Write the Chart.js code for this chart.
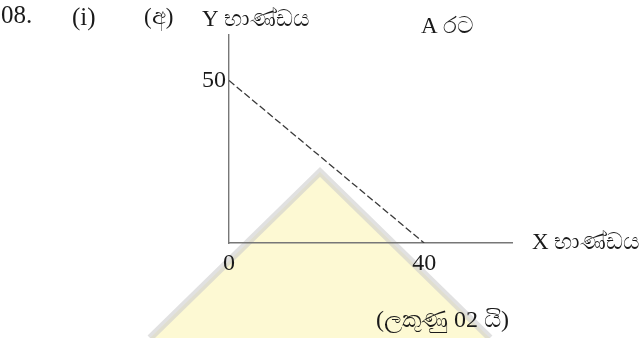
<!DOCTYPE html>
<html>
<head>
<meta charset="utf-8">
<script src="https://cdn.jsdelivr.net/npm/chart.js@4/dist/chart.umd.min.js"></script>
<style>
  html, body { margin: 0; padding: 0; background: #fff; }
  #wrap { width: 642px; height: 338px; position: relative; }
</style>
</head>
<body>
<div id="wrap"><canvas id="ppfChart" width="642" height="338"></canvas></div>
<script>
// PPF of country A: Y goods vs X goods
const ppfX = [0, 40];
const ppfY = [50, 0];
const xTicks = [0, 40];
const yTicks = [50];
const labels = {
  qNo: '08.',
  part: '(i)',
  sub: '(අ)',
  yName: 'Y භාණ්ඩය',
  country: 'A රට',
  xName: 'X භාණ්ඩය',
  marks: '(ලකුණු 02 යි)'
};

const serif = '"Liberation Serif", "Noto Sans", serif';

// faint watermark triangle behind the plot
const watermark = {
  id: 'watermark',
  beforeDraw(chart) {
    const c = chart.ctx;
    c.save();
    c.beginPath();
    c.moveTo(320, 172);
    c.lineTo(150, 338);
    c.lineTo(490, 338);
    c.closePath();
    c.fillStyle = 'rgba(252, 244, 175, 0.55)';
    c.fill();
    c.beginPath();
    c.moveTo(150, 338);
    c.lineTo(320, 172);
    c.lineTo(490, 338);
    c.lineWidth = 7;
    c.strokeStyle = 'rgba(205, 205, 205, 0.6)';
    c.stroke();
    c.restore();
  }
};

// header, axis names and marks line
const textPlugin = {
  id: 'examText',
  afterDraw(chart) {
    const c = chart.ctx;
    const xs = chart.scales.x, ys = chart.scales.y;
    c.save();
    c.fillStyle = '#1a1a1a';
    c.textBaseline = 'middle';
    c.textAlign = 'left';
    c.font = '25px ' + serif;
    c.fillText(labels.qNo, 1, 16);
    c.fillText(labels.part, 72, 18);
    c.font = '23px ' + serif;
    c.fillText(labels.sub, 144, 18);
    c.fillText(labels.yName, xs.getPixelForValue(0) - 27, 20);
    c.fillText(labels.country, 421, 27);
    c.fillText(labels.xName, xs.right + 20, ys.getPixelForValue(0));
    c.font = '24px ' + serif;
    c.fillText(labels.marks, 376, 321);
    c.restore();
  }
};

const ctx = document.getElementById('ppfChart').getContext('2d');
const ppfChart = new Chart(ctx, {
  type: 'scatter',
  data: {
    datasets: [{
      label: labels.country,
      data: ppfX.map((x, i) => ({ x: x, y: ppfY[i] })),
      showLine: true,
      borderColor: '#3a3a3a',
      borderWidth: 1.3,
      borderDash: [7, 3],
      pointRadius: 0,
      fill: false
    }]
  },
  options: {
    responsive: false,
    animation: false,
    layout: { padding: { left: 0, right: 130, top: 35, bottom: 63 } },
    plugins: { legend: { display: false }, tooltip: { enabled: false } },
    scales: {
      x: {
        type: 'linear',
        min: 0,
        max: 58,
        grid: { display: false, drawTicks: false },
        border: { display: true, color: '#777', width: 1.4, dash: [2, 1] },
        afterBuildTicks: s => { s.ticks = xTicks.map(v => ({ value: v })); },
        afterFit: s => { s.height = 32; },
        ticks: { color: '#1a1a1a', padding: 6, font: { family: serif, size: 24 } }
      },
      y: {
        type: 'linear',
        min: 0,
        max: 64,
        grid: { display: false, drawTicks: false },
        border: { display: true, color: '#777', width: 1.4, dash: [2, 1] },
        afterBuildTicks: s => { s.ticks = yTicks.map(v => ({ value: v })); },
        afterFit: s => { s.width = 229; },
        ticks: { color: '#1a1a1a', padding: 3, font: { family: serif, size: 24 } }
      }
    }
  },
  plugins: [watermark, textPlugin]
});
</script>
</body>
</html>
